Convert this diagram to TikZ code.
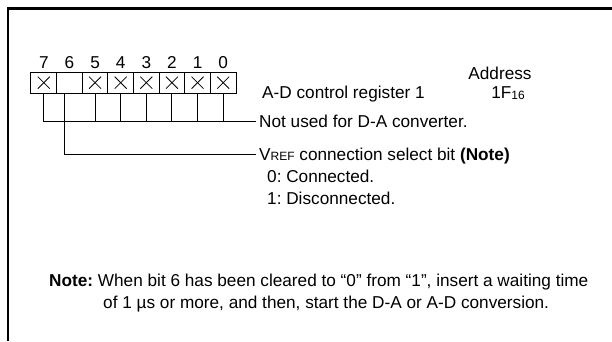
\documentclass[tikz,border=0pt]{standalone}
\usepackage{fontspec}
\setmainfont{Liberation Sans}
\frenchspacing
\begin{document}
\begin{tikzpicture}[x=1pt,y=-1pt,
  txt/.style={inner sep=0pt, anchor=base west, font=\fontsize{17.2}{20}\selectfont},
  ctxt/.style={inner sep=0pt, anchor=base, font=\fontsize{17.2}{20}\selectfont},
  cellbox/.style={draw, line width=1pt, minimum width=25.625pt, minimum height=21.3pt, inner sep=0pt},
  wire/.style={line width=1pt},
  xmark/.style={line width=0.8pt}]
\useasboundingbox (0,0) rectangle (612,341);
% frame
\draw[line width=2.6pt] (8,341) -- (8,8.6) -- (612,8.6);
% register cells
\foreach \b [count=\i from 0] in {7,6,5,4,3,2,1,0}{
  \node[cellbox] (c\b) at ({43.81+25.625*\i},82.65) {};
  \node[ctxt] (d\b) at ({43.81+25.625*\i},68) {\b};
}
\foreach \b in {7,5,4,3,2,1,0}{
  \draw[xmark] (c\b.center) +(-6,-6) -- +(6,6);
  \draw[xmark] (c\b.center) +(-6,6) -- +(6,-6);
}
% texts
\node[ctxt] (addr) at (500,79) {Address};
\node[txt] (reg) at (262,98.5) {A-D control register 1};
\node[ctxt] (hex) at (508,98.5) {1F\raisebox{-0.5pt}{\fontsize{12}{12}\selectfont 16}};
\node[txt] (nu) at (259,127.8) {Not used for D-A converter.};
\node[txt] (vref) at (259,160.5) {V{\fontsize{12}{12}\selectfont REF} connection select bit \textbf{(Note)}};
\node[txt] (v0) at (267,182.8) {0: Connected.};
\node[txt] (v1) at (267,204.5) {1: Disconnected.};
\node[txt] (note1) at (49,286.5) {\textbf{Note:} When bit 6 has been cleared to “0” from “1”, insert a waiting time};
\node[txt] (note2) at (103,308.5) {of 1 µs or more, and then, start the D-A or A-D conversion.};
% connectors
\coordinate (nuend) at ([xshift=-3pt]nu.west |- 0,121.7);
\coordinate (vend) at ([xshift=-3pt]vref.west |- 0,154.8);
\draw[wire] (c7.south) -- (c7.south |- nuend) -- (nuend);
\foreach \b in {5,4,3,2,1,0}{
  \draw[wire] (c\b.south) -- (c\b.south |- nuend);
}
\draw[wire] ([xshift=-4.5pt]c6.south) -- ([xshift=-4.5pt]c6.south |- vend) -- (vend);
\end{tikzpicture}
\end{document}
